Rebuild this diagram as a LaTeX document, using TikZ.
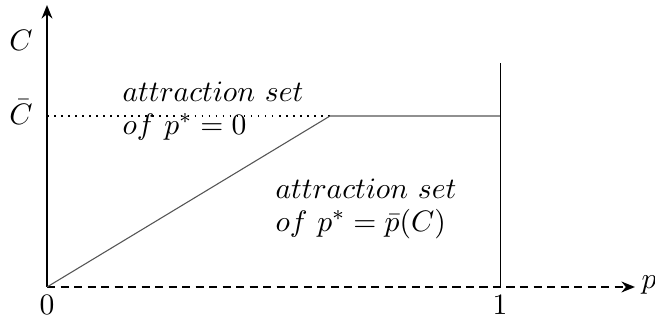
\documentclass[tikz,border=0pt]{standalone}
\usepackage{tikz}
\usetikzlibrary{arrows.meta}
\definecolor{curvegray}{HTML}{555555}
\tikzset{
  axis/.style={draw=black,line width=0.8pt,-{Stealth[length=5pt,width=4pt]}},
  boundary/.style={draw=curvegray,line width=0.4pt},
  level/.style={draw=black,dotted,line width=0.6pt},
  tick label/.style={inner sep=1pt,font=\fontsize{11.2}{12.5}\selectfont},
  region/.style={align=left,anchor=west,inner sep=0pt,
    font=\fontsize{11.2}{12.3}\selectfont}
}
\begin{document}
\begin{tikzpicture}[x=0.37pt,y=-0.37pt]
  \useasboundingbox (0,0) rectangle (655,323);
  \coordinate (o) at (47,287);
  \coordinate (ytop) at (47,5);
  \coordinate (xend) at (635,287);
  \coordinate (cbar) at (47,116);
  \coordinate (kink) at (330,116);
  \coordinate (one) at (500,287);
  \coordinate (onetop) at (500,63);
  \coordinate (onelevel) at (500,116);
  \draw[axis] (o)--(ytop);
  \draw[axis,densely dashed] (o)--(xend);
  \draw[level] (cbar)--(kink);
  \draw[boundary] (o)--(kink)--(onelevel);
  \draw[draw=black,line width=0.35pt] (one)--(onetop);
  \node[tick label] (lc) at (21,40) {$C$};
  \node[tick label] (lcbar) at (21,112) {$\bar{C}$};
  \node[tick label] (l0) at (47,305) {$0$};
  \node[tick label] (l1) at (500,305) {$1$};
  \node[tick label] (lp) at (649,285) {$p$};
  \node[region] (top set) at (122,111) {$attraction\ set$\\$of\ p^*=0$};
  \node[region] (low set) at (275,209) {$attraction\ set$\\$of\ p^*=\bar{p}(C)$};
\end{tikzpicture}
\end{document}
